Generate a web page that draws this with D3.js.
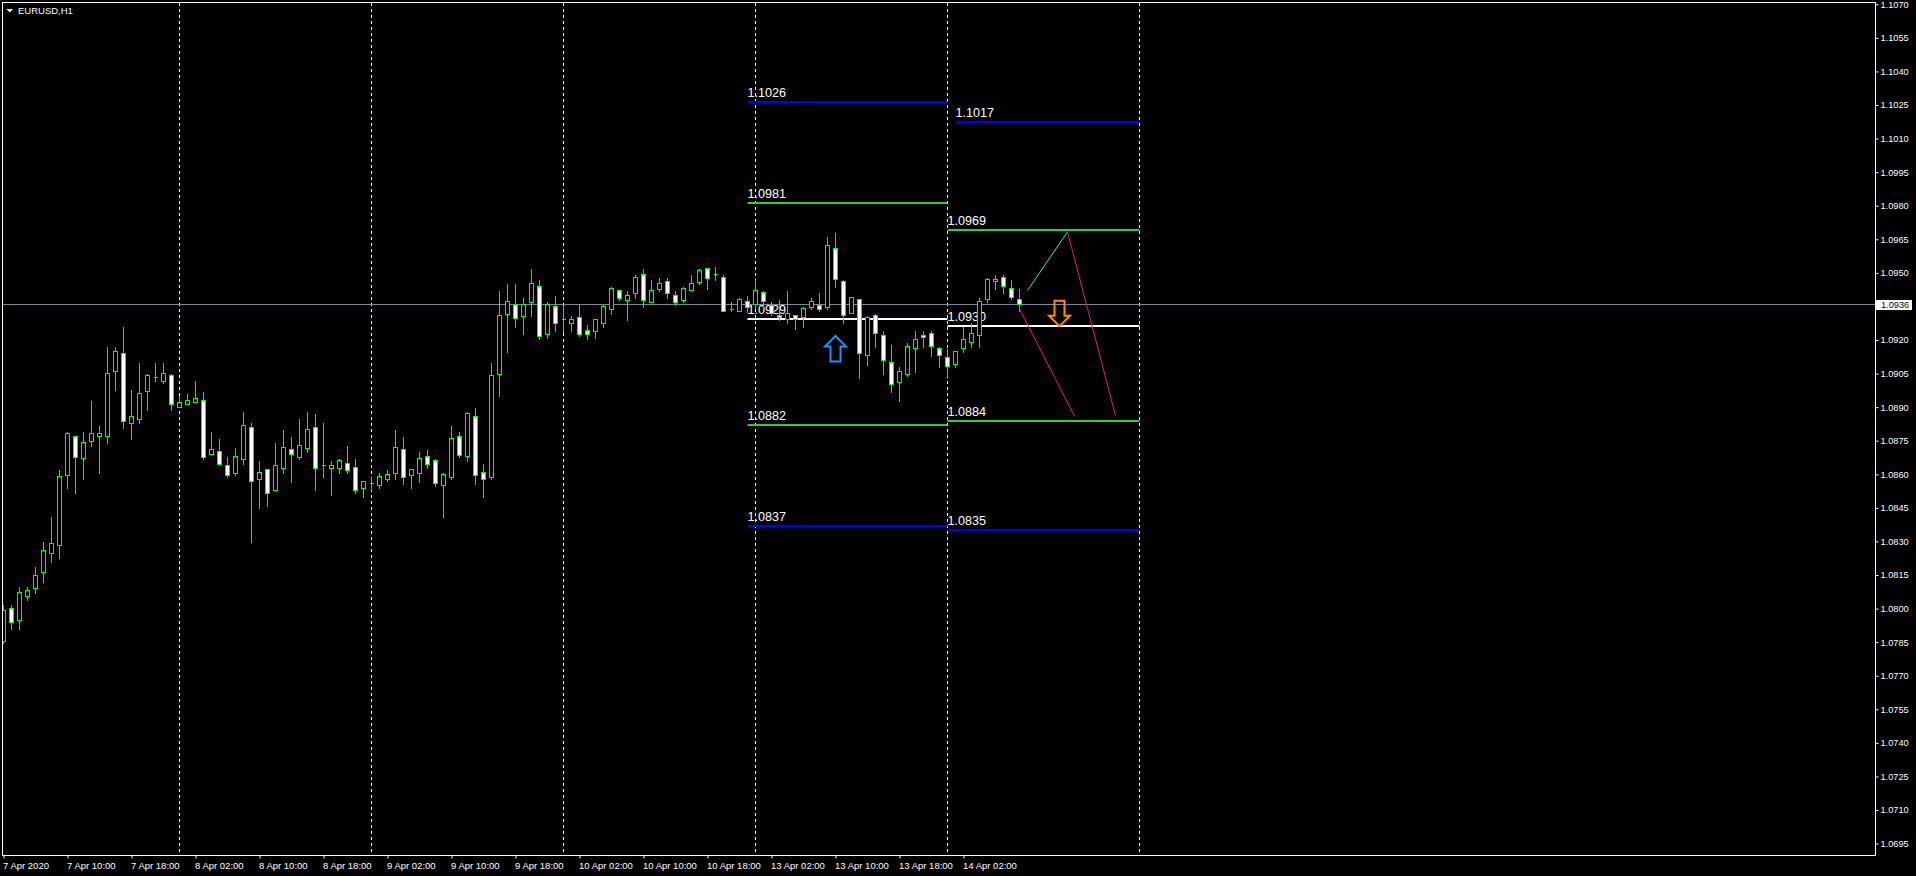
<!DOCTYPE html>
<html>
<head>
<meta charset="utf-8">
<title>EURUSD,H1</title>
<script src="https://cdnjs.cloudflare.com/ajax/libs/d3/7.8.5/d3.min.js"></script>
<style>
html,body{margin:0;padding:0;background:#000;overflow:hidden}
svg{display:block}
text{font-family:"Liberation Sans",Arial,sans-serif;fill:#fff}
</style>
</head>
<body>
<svg id="chart" width="1916" height="876"></svg>
<script>
const opens=[1.07856,1.08002,1.07951,1.08058,1.08090,1.08163,1.08250,1.08282,1.08599,1.08770,1.08671,1.08751,1.08769,1.08769,1.09060,1.09141,
1.08831,1.08849,1.08970,1.09034,1.09019,1.09043,1.08899,1.08912,1.08921,1.08931,1.08689,1.08703,1.08640,1.08606,1.08669,1.08810,
1.08580,1.08623,1.08530,1.08628,1.08713,1.08678,1.08719,1.08810,1.08640,1.08630,1.08630,1.08649,1.08632,1.08541,1.08561,1.08550,
1.08581,1.08608,1.08712,1.08599,1.08608,1.08681,1.08663,1.08550,1.08590,1.08770,1.08680,1.08860,1.08610,1.08590,1.09050,1.09318,
1.09360,1.09309,1.09372,1.09440,1.09229,1.09351,1.09293,1.09278,1.09302,1.09244,1.09242,1.09278,1.09340,1.09422,1.09381,1.09412,
1.09494,1.09372,1.09430,1.09462,1.09400,1.09381,1.09422,1.09461,1.09521,1.09494,1.09480,1.09340,1.09331,1.09373,1.09360,1.09413,
1.09358,1.09310,1.09293,1.09310,1.09302,1.09349,1.09358,1.09349,1.09610,1.09462,1.09319,1.09382,1.09132,1.09310,1.09221,1.09101,
1.09011,1.09050,1.09163,1.09221,1.09230,1.09163,1.09123,1.09092,1.09163,1.09190,1.09221,1.09382,1.09462,1.09480,1.09431,1.09382];
const highs=[1.08021,1.08021,1.08101,1.08101,1.08191,1.08303,1.08414,1.08623,1.08794,1.08770,1.08794,1.08933,1.08821,1.09174,1.09174,1.09263,
1.08982,1.09102,1.09053,1.09102,1.09102,1.09053,1.08955,1.08964,1.09022,1.08973,1.08794,1.08763,1.08682,1.08722,1.08883,1.08832,
1.08664,1.08623,1.08745,1.08803,1.08771,1.08852,1.08883,1.08874,1.08832,1.08664,1.08673,1.08731,1.08673,1.08569,1.08593,1.08611,
1.08624,1.08803,1.08772,1.08623,1.08705,1.08714,1.08672,1.08610,1.08821,1.08794,1.08883,1.08901,1.08651,1.09102,1.09424,1.09455,
1.09455,1.09393,1.09522,1.09473,1.09375,1.09402,1.09357,1.09313,1.09360,1.09272,1.09293,1.09360,1.09442,1.09422,1.09424,1.09495,
1.09522,1.09473,1.09482,1.09482,1.09424,1.09442,1.09497,1.09522,1.09521,1.09531,1.09495,1.09375,1.09393,1.09401,1.09480,1.09424,
1.09373,1.09382,1.09424,1.09310,1.09352,1.09391,1.09415,1.09665,1.09683,1.09471,1.09391,1.09382,1.09310,1.09319,1.09243,1.09181,
1.09083,1.09190,1.09243,1.09243,1.09243,1.09172,1.09163,1.09150,1.09261,1.09282,1.09391,1.09482,1.09494,1.09494,1.09471,1.09431];
const lows=[1.07845,1.07909,1.07909,1.08039,1.08070,1.08119,1.08209,1.08228,1.08539,1.08517,1.08580,1.08727,1.08606,1.08741,1.08977,1.08807,
1.08758,1.08830,1.08888,1.09018,1.09008,1.08888,1.08899,1.08912,1.08921,1.08669,1.08689,1.08648,1.08589,1.08597,1.08647,1.08298,
1.08450,1.08459,1.08530,1.08606,1.08566,1.08669,1.08700,1.08530,1.08589,1.08508,1.08606,1.08606,1.08517,1.08500,1.08530,1.08539,
1.08568,1.08580,1.08557,1.08539,1.08566,1.08629,1.08549,1.08410,1.08580,1.08678,1.08660,1.08557,1.08499,1.08580,1.08950,1.09147,
1.09259,1.09229,1.09309,1.09203,1.09211,1.09242,1.09238,1.09241,1.09220,1.09203,1.09211,1.09260,1.09318,1.09379,1.09291,1.09388,
1.09349,1.09372,1.09419,1.09388,1.09358,1.09370,1.09422,1.09451,1.09428,1.09469,1.09331,1.09331,1.09331,1.09327,1.09345,1.09342,
1.09312,1.09290,1.09275,1.09249,1.09260,1.09340,1.09331,1.09340,1.09437,1.09278,1.09319,1.09032,1.09089,1.09171,1.09050,1.08969,
1.08929,1.09041,1.09059,1.09171,1.09130,1.09081,1.09041,1.09081,1.09147,1.09171,1.09171,1.09372,1.09430,1.09412,1.09382,1.09331];
const closes=[1.07994,1.07938,1.08073,1.08082,1.08149,1.08261,1.08292,1.08592,1.08784,1.08679,1.08744,1.08784,1.08784,1.09052,1.09150,1.08840,
1.08860,1.08962,1.09043,1.09034,1.09052,1.08912,1.08922,1.08931,1.08940,1.08679,1.08713,1.08648,1.08599,1.08681,1.08819,1.08568,
1.08609,1.08518,1.08640,1.08721,1.08689,1.08730,1.08801,1.08630,1.08640,1.08640,1.08663,1.08621,1.08532,1.08569,1.08561,1.08592,
1.08602,1.08721,1.08590,1.08623,1.08672,1.08648,1.08559,1.08602,1.08761,1.08688,1.08873,1.08599,1.08581,1.09043,1.09311,1.09373,
1.09300,1.09360,1.09454,1.09220,1.09360,1.09278,1.09293,1.09293,1.09229,1.09229,1.09293,1.09351,1.09431,1.09389,1.09400,1.09480,
1.09381,1.09422,1.09454,1.09412,1.09372,1.09431,1.09454,1.09512,1.09479,1.09494,1.09331,1.09340,1.09382,1.09349,1.09422,1.09373,
1.09319,1.09302,1.09319,1.09293,1.09342,1.09373,1.09340,1.09623,1.09471,1.09310,1.09391,1.09141,1.09302,1.09230,1.09110,1.09002,
1.09060,1.09172,1.09203,1.09212,1.09172,1.09132,1.09083,1.09150,1.09203,1.09230,1.09373,1.09471,1.09471,1.09440,1.09391,1.09360];

const priceTicks=[1.1070,1.1055,1.1040,1.1025,1.1010,1.0995,1.0980,1.0965,1.0950,1.0935,1.0920,1.0905,1.0890,1.0875,1.0860,1.0845,1.0830,1.0815,1.0800,1.0785,1.0770,1.0755,1.0740,1.0725,1.0710,1.0695];
const timeTickBars=[0,8,16,24,32,40,48,56,64,72,80,88,96,104,112,120];
const timeTickLabels=["7 Apr 2020","7 Apr 10:00","7 Apr 18:00","8 Apr 02:00","8 Apr 10:00","8 Apr 18:00","9 Apr 02:00","9 Apr 10:00","9 Apr 18:00","10 Apr 02:00","10 Apr 10:00","10 Apr 18:00","13 Apr 02:00","13 Apr 10:00","13 Apr 18:00","14 Apr 02:00"];
const dayBreakBars=[22,46,70,94,118,142];
const bidPrice=1.0936;

const levelStart=[93,119,93,118,93,118,93,118,93,118];
const levelEnd=[118,142,118,142,118,142,118,142,118,142];
const levelValues=[1.10264,1.10174,1.0981,1.0969,1.09295,1.09262,1.0882,1.0884,1.0837,1.0835];
const levelLabels=["1.1026","1.1017","1.0981","1.0969","1.0929","1.0930","1.0882","1.0884","1.0837","1.0835"];
const levelColors=["#0000ff","#0000ff","#32cd32","#32cd32","#ffffff","#ffffff","#32cd32","#32cd32","#0000ff","#0000ff"];

const tealBars=[128,133];
const tealPrices=[1.09421,1.09683];
const pinkABars=[127,133.9];
const pinkAPrices=[1.09339,1.08858];
const pinkBBars=[133,139];
const pinkBPrices=[1.09683,1.08862];
const upArrowBar=104, upArrowPrice=1.09218;
const downArrowBar=132, downArrowPrice=1.09262;

const svg=d3.select("#chart");
const plot={left:2,top:2,right:1875,bottom:855};
const x=d3.scaleLinear().domain([0,142]).range([3.5,1139.5]);
const y=d3.scaleLinear().domain([1.0695,1.1070]).range([843.6,4.3]);
const py=v=>Math.round(y(v))+0.5;
const lime="#00ff00";

svg.append("defs").append("clipPath").attr("id","plotClip").append("rect")
  .attr("x",plot.left).attr("y",plot.top).attr("width",plot.right-plot.left).attr("height",plot.bottom-plot.top);

const gPlot=svg.append("g").attr("clip-path","url(#plotClip)");

// day separators
gPlot.append("g").selectAll("line").data(dayBreakBars).join("line")
  .attr("x1",d=>x(d)).attr("x2",d=>x(d)).attr("y1",plot.top+1).attr("y2",plot.bottom)
  .attr("stroke","#fff").attr("stroke-width",1).attr("stroke-dasharray","3,3");

// levels
const levels=levelValues.map((v,i)=>({v,label:levelLabels[i],c:levelColors[i],a:levelStart[i],b:levelEnd[i]}));
gPlot.append("g").selectAll("line").data(levels).join("line")
  .attr("x1",d=>x(d.a)).attr("x2",d=>x(d.b)).attr("y1",d=>Math.round(y(d.v))).attr("y2",d=>Math.round(y(d.v)))
  .attr("stroke",d=>d.c).attr("stroke-width",2);
gPlot.append("g").selectAll("text").data(levels).join("text")
  .attr("x",d=>x(d.a)).attr("y",d=>Math.round(y(d.v))-5)
  .attr("font-size","12.6px").text(d=>d.label);

// bid line
gPlot.append("line").attr("x1",plot.left).attr("x2",plot.right)
  .attr("y1",py(bidPrice)).attr("y2",py(bidPrice)).attr("stroke","#778899").attr("stroke-width",1);

// candles
const candles=opens.map((o,i)=>({i,o,h:highs[i],l:lows[i],c:closes[i]}));
const gC=gPlot.append("g").attr("shape-rendering","crispEdges");
gC.selectAll("line").data(candles).join("line")
  .attr("x1",d=>x(d.i)).attr("x2",d=>x(d.i)).attr("y1",d=>py(d.h)).attr("y2",d=>py(d.l)+0.5)
  .attr("stroke",lime);
gC.selectAll("path").data(candles).join("path")
  .attr("d",d=>{
    const x0=x(d.i)-2,w=4,t=py(Math.max(d.o,d.c)),b=py(Math.min(d.o,d.c));
    return `M${x0},${t}h${w}V${b}h${-w}Z`;
  })
  .attr("fill",d=>d.c<d.o?"#fff":"#000").attr("stroke",lime).attr("stroke-width",1);

// analysis lines
const lineGen=d3.line().x(d=>x(d[0])).y(d=>y(d[1]));
const drawLine=(bars,prices,color)=>gPlot.append("path")
  .attr("d",lineGen(bars.map((b,i)=>[b,prices[i]]))).attr("fill","none").attr("stroke",color).attr("stroke-width",1);
drawLine(tealBars,tealPrices,"#40e0d0");
drawLine(pinkABars,pinkAPrices,"#e0188c");
drawLine(pinkBBars,pinkBPrices,"#e0188c");

// arrows (tip at the anchor point, shape in local pixels)
const arrowShape="M0,0L10.5,10.5H5V25.5H-5V10.5H-10.5Z";
gPlot.append("path").attr("d",arrowShape)
  .attr("transform",`translate(${x(upArrowBar)},${y(upArrowPrice)})`)
  .attr("fill","none").attr("stroke","#1e90ff").attr("stroke-width",2);
gPlot.append("path").attr("d",arrowShape)
  .attr("transform",`translate(${x(downArrowBar)},${y(downArrowPrice)}) scale(1,-1)`)
  .attr("fill","none").attr("stroke","#ff8c00").attr("stroke-width",2);

// frame
svg.append("rect").attr("x",plot.left+0.5).attr("y",plot.top+0.5)
  .attr("width",plot.right-plot.left).attr("height",plot.bottom-plot.top)
  .attr("fill","none").attr("stroke","#fff").attr("stroke-width",1);

// price axis
const yAxis=d3.axisRight(y).tickValues(priceTicks).tickSize(3).tickSizeOuter(0).tickPadding(2).tickFormat(d3.format(".4f"));
const gy=svg.append("g").attr("transform",`translate(${plot.right+0.5},0)`).call(yAxis);
gy.select(".domain").remove();
gy.selectAll("line").attr("stroke","#fff").attr("y1",0).attr("y2",0);
gy.selectAll("text").attr("font-size","9.2px").attr("font-family",'"Liberation Sans"').attr("fill","#fff");

// bid tag
const gBid=svg.append("g");
gBid.append("rect").attr("x",plot.right+1).attr("y",py(bidPrice)-4.5).attr("width",36).attr("height",10).attr("fill","#fff");
gBid.append("text").attr("x",plot.right+6).attr("y",py(bidPrice)+3.5).attr("font-size","9.2px").style("fill","#000").text(d3.format(".4f")(bidPrice));

// time axis
const xAxis=d3.axisBottom(x).tickValues(timeTickBars).tickSize(3).tickSizeOuter(0).tickPadding(3)
  .tickFormat((d,i)=>timeTickLabels[i]);
const gx=svg.append("g").attr("transform",`translate(0,${plot.bottom+0.5})`).call(xAxis);
gx.select(".domain").remove();
gx.selectAll("line").attr("stroke","#fff");
gx.selectAll("text").attr("font-size","9.5px").attr("font-family",'"Liberation Sans"').attr("fill","#fff")
  .attr("text-anchor","start").attr("dx","-1").attr("y",6.5).attr("dy","0.71em");

// title
svg.append("path").attr("d","M6.5,9H13L9.75,12.5Z").attr("fill","#fff");
svg.append("text").attr("x",18).attr("y",14).attr("font-size","9.5px").text("EURUSD,H1");
</script>
</body>
</html>
